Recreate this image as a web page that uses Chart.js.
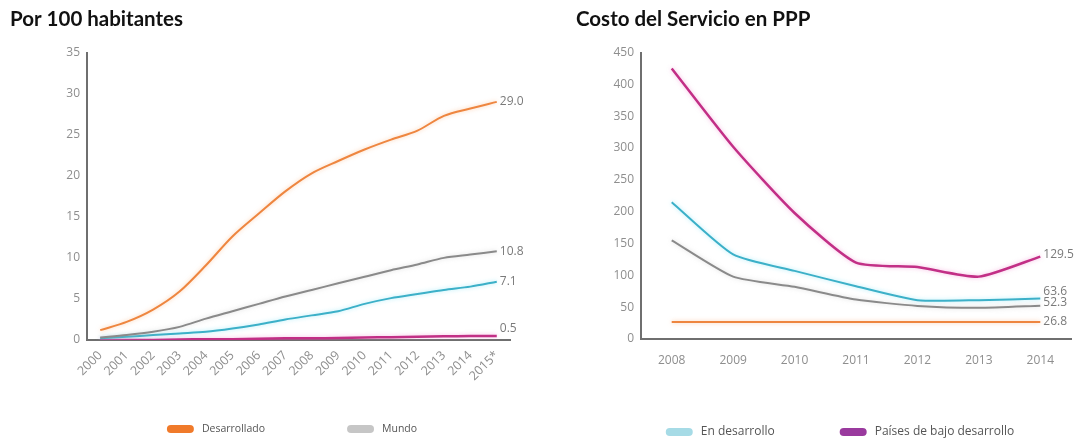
<!DOCTYPE html>
<html>
<head>
<meta charset="utf-8">
<script src="https://cdn.jsdelivr.net/npm/chart.js@4.4.1/dist/chart.umd.min.js"></script>
<style>
  html, body { margin:0; padding:0; background:#fff; }
  #wrap { position:relative; width:1088px; height:442px; }
  .box { position:absolute; top:0; width:544px; height:442px; }
</style>
</head>
<body>
<div id="wrap">
  <div class="box" style="left:0"><canvas id="left" width="544" height="442"></canvas></div>
  <div class="box" style="left:544px"><canvas id="right" width="544" height="442"></canvas></div>
</div>
<script>

// series names + colours (line / legend swatch)
const seriesNames  = ['Desarrollado', 'Mundo', 'En desarrollo', 'Países de bajo desarrollo']
const lineColors   = ['#ee8640', '#8a8a8a', '#3cb0c8', '#c22f86']
const glowColors   = ['rgba(250,170,110,0.55)', 'rgba(190,190,190,0.5)', 'rgba(120,225,245,0.6)', 'rgba(240,120,200,0.5)']
const legendColors = ['#f07a2a', '#c6c6c6', '#a6dbe6', '#9a3a9e']

// left: Por 100 habitantes
const yearsA        = ['2000','2001','2002','2003','2004','2005','2006','2007','2008','2009','2010','2011','2012','2013','2014','2015*']
const desarrolladoA = [1.2, 2.2, 3.7, 5.9, 9.1, 12.6, 15.4, 18.1, 20.3, 21.8, 23.2, 24.4, 25.5, 27.3, 28.2, 29.0]
const mundoA        = [0.3, 0.6, 1.0, 1.6, 2.6, 3.5, 4.4, 5.3, 6.1, 6.9, 7.7, 8.5, 9.2, 10.0, 10.4, 10.8]
const enDesarrolloA = [0.2, 0.4, 0.6, 0.8, 1.0, 1.4, 1.9, 2.5, 3.0, 3.5, 4.4, 5.1, 5.6, 6.1, 6.5, 7.1]
const bajoA         = [0.0, 0.0, 0.0, 0.05, 0.1, 0.1, 0.15, 0.2, 0.2, 0.25, 0.3, 0.35, 0.4, 0.45, 0.48, 0.5]

// right: Costo del Servicio en PPP
const yearsB        = ['2008','2009','2010','2011','2012','2013','2014']
const desarrolladoB = [26.8, 26.8, 26.8, 26.8, 26.8, 26.8, 26.8]
const mundoB        = [155, 98, 82, 62, 52, 49, 52.3]
const enDesarrolloB = [215, 133, 107, 83, 61, 61, 63.6]
const bajoB         = [425, 302, 198, 120, 113, 98, 129.5]


// soft halo round the lines, like the original artwork
const lineGlow = {
      id: 'lineGlow',
      beforeDatasetDraw(chart, args){
            const ctx = chart.ctx
            ctx.save()
            ctx.shadowColor = glowColors[args.index]
            ctx.shadowBlur = 4
      },
      afterDatasetDraw(chart){
            chart.ctx.restore()
      }
}

// value printed at the end of each line
const endLabels = {
      id: 'endLabels',
      afterDatasetsDraw(chart, args, opts){
            const ctx = chart.ctx
            ctx.save()
            ctx.font = opts.font
            ctx.fillStyle = opts.color
            ctx.textBaseline = 'middle'
            chart.data.datasets.forEach((ds, i)=>{
                  const meta = chart.getDatasetMeta(i)
                  const pt = meta.data[meta.data.length - 1]
                  const v = ds.data[ds.data.length - 1]
                  ctx.fillText(v.toFixed(1), pt.x + opts.dx, pt.y + (opts.dy[i] || 0))
            })
            ctx.restore()
      }
}

// each chart only shows two of the four series in its legend
const halfLegend = {
      id: 'halfLegend',
      afterDraw(chart, args, opts){
            const ctx = chart.ctx
            ctx.save()
            ctx.font = opts.font
            ctx.textBaseline = 'middle'
            const items = opts.items.map(i => ({ i, w: opts.boxW + opts.textGap + ctx.measureText(seriesNames[i]).width }))
            const total = items.reduce((s, it) => s + it.w, 0) + opts.gap * (items.length - 1)
            let x = opts.center - total / 2
            items.forEach((it)=>{
                  ctx.fillStyle = legendColors[it.i]
                  ctx.beginPath()
                  ctx.roundRect(x, opts.y - opts.boxH / 2, opts.boxW, opts.boxH, opts.boxH / 2)
                  ctx.fill()
                  ctx.fillStyle = opts.color
                  ctx.fillText(seriesNames[it.i], x + opts.boxW + opts.textGap, opts.y)
                  x += it.w + opts.gap
            })
            ctx.restore()
      }
}


function getDataSet(series, tension){
      return series.map((values, i) => ({
            label: seriesNames[i],
            data: values,
            borderColor: lineColors[i],
            backgroundColor: lineColors[i],
            borderWidth: i === 3 ? 2.5 : 2,
            pointRadius: 0,
            tension: tension,
      }))
}


function createLine(detail){

      const setup = {
            type: 'line',
            data: {
                  labels: detail.labels,
                  datasets: getDataSet(detail.series, detail.tension)
            },
            options: {
                  responsive: false,
                  animation: false,
                  devicePixelRatio: 1,
                  layout: { padding: detail.padding },
                  scales: {
                        x: {
                              offset: true,
                              grid: { display: false, drawTicks: false },
                              border: { color: '#6f6f6f', width: 2 },
                              ticks: {
                                    color: '#8e8e8e',
                                    font: { family: 'Open Sans', size: detail.xFont },
                                    padding: detail.xPad,
                                    minRotation: detail.rotate, maxRotation: detail.rotate,
                                    autoSkip: false
                              },
                              afterFit: (scale)=>{ scale.height = detail.xHeight }
                        },
                        y: {
                              min: 0, max: detail.yMax,
                              grid: { display: false, drawTicks: false },
                              border: { color: '#6f6f6f', width: 2 },
                              ticks: {
                                    stepSize: detail.yStep,
                                    color: '#8e8e8e',
                                    font: { family: 'Open Sans', size: 12 },
                                    padding: 7
                              },
                              afterFit: (scale)=>{ scale.width = detail.yWidth }
                        }
                  },
                  plugins: {
                        legend: { display: false },
                        tooltip: { enabled: false },
                        title: {
                              display: true,
                              text: detail.title,
                              align: 'start',
                              color: '#111',
                              font: { family: 'Lato', size: 20.5, weight: 'bold' },
                              padding: { top: 7, bottom: 21 }
                        },
                        endLabels: { font: '12px "Open Sans"', color: '#7a7a7a', dx: 3, dy: detail.labelNudge },
                        halfLegend: {
                              items: detail.legendItems, y: detail.legendY, center: detail.legendCenter,
                              boxW: 27, boxH: 8, textGap: 8, gap: detail.legendGap,
                              font: detail.legendFont, color: '#555'
                        }
                  }
            },
            plugins: [lineGlow, endLabels, halfLegend]
      }

      return new Chart(document.getElementById(detail.id), setup)
}


createLine({
      id: 'left', title: 'Por 100 habitantes',
      labels: yearsA,
      series: [desarrolladoA, mundoA, enDesarrolloA, bajoA],
      tension: 0.3,
      yMax: 35, yStep: 5, yWidth: 77,
      xFont: 12.5, xPad: 8, rotate: 45, xHeight: 102,
      padding: { left: 10, right: 34, top: 0, bottom: 0 },
      labelNudge: [0, 0, 0, -7],
      legendItems: [0, 1], legendY: 429, legendCenter: 292, legendGap: 82, legendFont: '10.5px "Open Sans"'
})

createLine({
      id: 'right', title: 'Costo del Servicio en PPP',
      labels: yearsB,
      series: [desarrolladoB, mundoB, enDesarrolloB, bajoB],
      tension: 0.2,
      yMax: 450, yStep: 50, yWidth: 65,
      xFont: 12, xPad: 14, rotate: 0, xHeight: 103,
      padding: { left: 32, right: 17, top: 0, bottom: 0 },
      labelNudge: [0, -3, -7, -2],
      legendItems: [2, 3], legendY: 432, legendCenter: 296, legendGap: 65, legendFont: '12px "Open Sans"'
})

</script>
</body>
</html>
